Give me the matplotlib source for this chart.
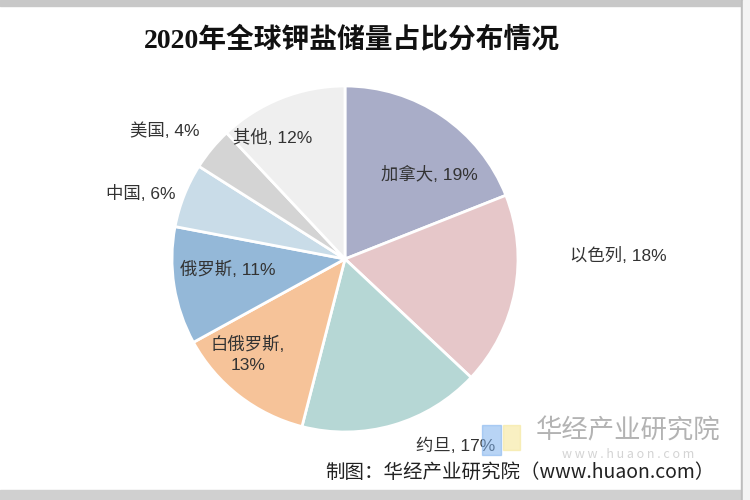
import matplotlib
matplotlib.use("Agg")
import matplotlib.pyplot as plt
from matplotlib.patches import Rectangle
import numpy as np

plt.rcParams['font.family'] = ['Noto Sans CJK SC', 'DejaVu Sans']

# ---- data ----
countries = ["加拿大", "以色列", "约旦", "白俄罗斯", "俄罗斯", "中国", "美国", "其他"]
shares = [19, 18, 17, 13, 11, 6, 4, 12]
label_texts = ["加拿大, 19%", "以色列, 18%", "约旦, 17%", "白俄罗斯,\n13%",
               "俄罗斯, 11%", "中国, 6%", "美国, 4%", "其他, 12%"]
title = "2020年全球钾盐储量占比分布情况"
source = "制图：华经产业研究院（www.huaon.com）"

# ---- style / layout ----
colors = ["#a9adc8", "#e6c7c9", "#b6d7d5", "#f6c399",
          "#94b8d8", "#c9dce8", "#d4d4d4", "#efefef"]
# label positions in units of pie radius (x, y) relative to centre
label_pos = [(0.49, 0.49), (1.58, 0.02), (0.64, -1.08), (-0.56, -0.55),
             (-0.68, -0.06), (-1.18, 0.38), (-1.04, 0.74), (-0.42, 0.70)]
label_family = ["Liberation Sans", "Noto Sans CJK SC"]

W, H = 750, 500
cx, cy, R = 345, 259, 173

fig = plt.figure(figsize=(7.5, 5), dpi=100)
fig.patch.set_facecolor("white")
ax = fig.add_axes([0, 0, 1, 1])
ax.pie(shares, colors=colors, startangle=90, counterclock=False, radius=1,
       wedgeprops=dict(edgecolor="white", linewidth=2))
ax.set_xlim(-cx / R, (W - cx) / R)
ax.set_ylim(-(H - cy) / R, cy / R)
ax.set_aspect("auto")
ax.axis("off")

for txt, (lx, ly) in zip(label_texts, label_pos):
    ax.text(lx, ly, txt, ha="center", va="center", fontsize=12.5,
            family=label_family, color="#333333", linespacing=1.4)

# title
fig.text(352 / W, 1 - 40 / H, title, ha="center", va="center", fontsize=20,
         fontweight="bold", family=["Liberation Serif", "Noto Sans CJK SC"],
         color="#111111")

# watermark logo & text
fig.patches.append(Rectangle((482 / W, 1 - 455 / H), 19 / W, 30 / H,
                             transform=fig.transFigure, color="#7fb2ee",
                             alpha=0.55, zorder=5))
fig.patches.append(Rectangle((503 / W, 1 - 450 / H), 17 / W, 25 / H,
                             transform=fig.transFigure, color="#f5e79a",
                             alpha=0.6, zorder=5))
fig.text(628 / W, 1 - 431 / H, "华经产业研究院", ha="center", va="center",
         fontsize=19, color="#b3b3b3", zorder=1)
fig.text(628 / W, 1 - 455 / H, "w w w . h u a o n . c o m", ha="center",
         va="center", fontsize=9, color="#d4d4d4", zorder=1)

# source
fig.text(520 / W, 1 - 472 / H, source, ha="center", va="center",
         fontsize=14, color="#222222", zorder=6)

# frame
fig.patches.append(Rectangle((0, 1 - 6 / H), 1, 6 / H, transform=fig.transFigure,
                             color="#c8c8c8", zorder=10))
fig.patches.append(Rectangle((0, 0), 1, 10 / H, transform=fig.transFigure,
                             color="#d0d0d0", zorder=10))
fig.patches.append(Rectangle((741 / W, 0), 2 / W, 1, transform=fig.transFigure,
                             color="#bdbdbd", zorder=10))
fig.patches.append(Rectangle((743 / W, 0), 7 / W, 1, transform=fig.transFigure,
                             color="#f4f4f4", zorder=10))

fig.savefig("out.png", dpi=100)
